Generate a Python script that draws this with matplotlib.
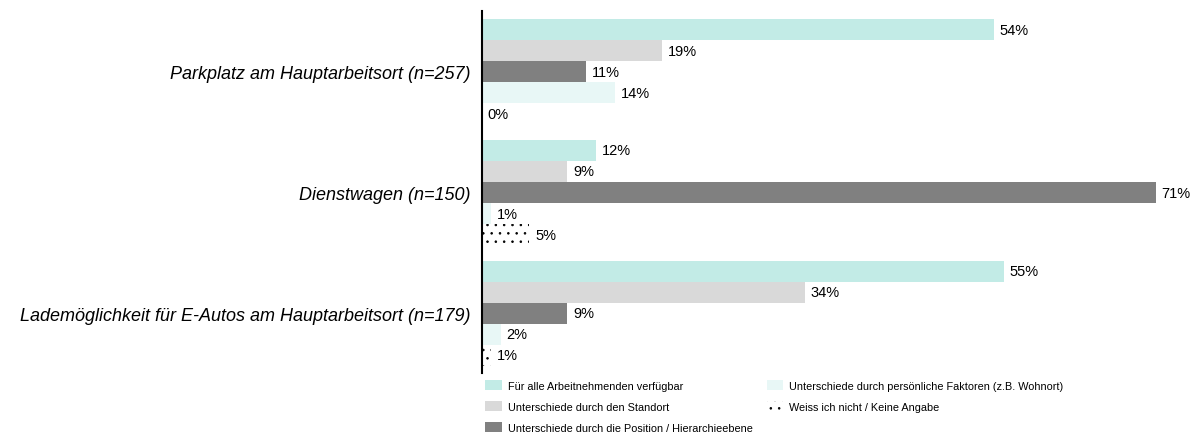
import numpy as np
import matplotlib
matplotlib.use("Agg")
import matplotlib.pyplot as plt

plt.rcParams["font.family"] = ["Liberation Sans", "DejaVu Sans"]
plt.rcParams["hatch.linewidth"] = 0.6
plt.rcParams["hatch.color"] = "black"

# data
groups = ["Parkplatz am Hauptarbeitsort (n=257)",
          "Dienstwagen (n=150)",
          "Lademöglichkeit für E-Autos am Hauptarbeitsort (n=179)"]
series = ["Für alle Arbeitnehmenden verfügbar",
          "Unterschiede durch den Standort",
          "Unterschiede durch die Position / Hierarchieebene",
          "Unterschiede durch persönliche Faktoren (z.B. Wohnort)",
          "Weiss ich nicht / Keine Angabe"]
values = [
    [54, 19, 11, 14, 0],
    [12, 9, 71, 1, 5],
    [55, 34, 9, 2, 1],
]
colors = ["#C2EBE6", "#D9D9D9", "#808080", "#E8F7F6", "white"]
hatches = [None, None, None, None, ".."]

fig = plt.figure(figsize=(12, 4.35), dpi=100)
ax = fig.add_axes([482 / 1200, 1 - 374 / 435, 683 / 1200, 362 / 435])

group_step = 5.76
handles = []
for j, name in enumerate(series):
    ys = [i * group_step + j for i in range(len(groups))]
    vals = [values[i][j] for i in range(len(groups))]
    b = ax.barh(ys, vals, height=1.0, color=colors[j], hatch=hatches[j],
                edgecolor="black" if hatches[j] else colors[j],
                linewidth=0, label=name)
    handles.append(b)
    for y, v in zip(ys, vals):
        ax.text(v + 0.6, y, "%d%%" % v, va="center", ha="left", fontsize=10.5)

ax.set_ylim(2 * group_step + 4 + 0.5 + 7 / 21, -0.5 - 8 / 21)
ax.set_xlim(0, 72)
ax.set_yticks([i * group_step + 2 for i in range(len(groups))])
ax.set_yticklabels(groups, fontsize=13, style="italic")
ax.tick_params(axis="y", length=0, pad=8.5)
ax.set_xticks([])
for s in ["top", "right", "bottom"]:
    ax.spines[s].set_visible(False)
ax.spines["left"].set_linewidth(1.5)

fig.legend(handles=handles, loc="upper left",
           bbox_to_anchor=(485 / 1200, 1 - 381 / 435), ncol=2,
           frameon=False, fontsize=7.8, handlelength=1.55, handleheight=1.1,
           handletextpad=0.55, columnspacing=1.3, labelspacing=0.93,
           borderpad=0, borderaxespad=0)

plt.savefig("out.png", dpi=100)
